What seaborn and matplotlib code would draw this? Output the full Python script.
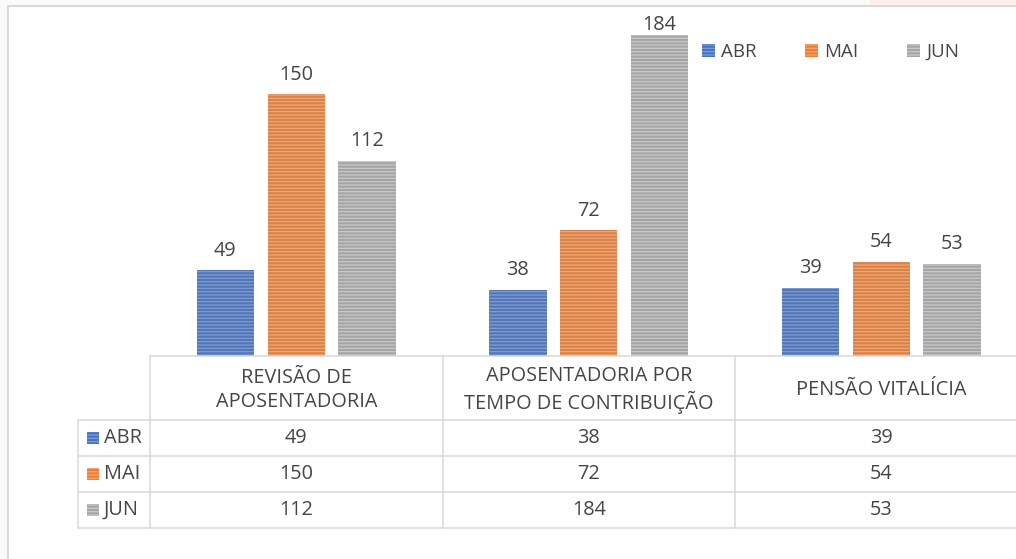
import seaborn as sns
import matplotlib.pyplot as plt
import pandas as pd
from matplotlib.patches import Rectangle, Patch

# dados
categorias = ['REVISÃO DE\nAPOSENTADORIA', 'APOSENTADORIA POR\nTEMPO DE CONTRIBUIÇÃO', 'PENSÃO VITALÍCIA']
meses = ['ABR', 'MAI', 'JUN']
abr = [49, 38, 39]
mai = [150, 72, 54]
jun = [112, 184, 53]

cores = ['#4472C4', '#ED7D31', '#A5A5A5']
listras = ['#7E9DD8', '#F5A672', '#C8C8C8']
texto = '#454545'
grade = '#D9D9D9'
fs = 14.3

df = pd.DataFrame({
    'Categoria': categorias * 3,
    'Mes': [m for m in meses for _ in categorias],
    'Valor': abr + mai + jun,
})

plt.rcParams['font.family'] = ['Open Sans', 'DejaVu Sans']
plt.rcParams['hatch.linewidth'] = 0.9

W, H = 1016, 559
fig = plt.figure(figsize=(W / 100, H / 100), dpi=100, facecolor='#FAFAFA')

# fundo do gráfico com borda (atrás dos eixos)
fig.patches.append(Rectangle((870 / W, 1 - 6 / H), 146 / W, 6 / H, transform=fig.transFigure,
                             facecolor='#FCEEEB', edgecolor='none', zorder=-2))
fig.patches.append(Rectangle((8 / W, -0.1), 1.1, 1.1 - 6 / H, transform=fig.transFigure,
                             facecolor='white', edgecolor=grade, lw=1.5, zorder=-1))

# barras
cat_px = 292.5
ax = fig.add_axes([150 / W, (H - 356) / H, 3 * cat_px / W, 349 / H])
ax.patch.set_alpha(0)
sns.barplot(data=df, x='Categoria', y='Valor', hue='Mes', palette=cores, width=0.727, gap=0.19,
            linewidth=0, legend=False, ax=ax)

ax.set_xlim(-0.5, 2.5)
ax.set_ylim(0, 200)

for cont, lc in zip(ax.containers, listras):
    for bar in cont:
        bar.set_hatch('-----')
        bar.set_edgecolor(lc)
        bar.set_linewidth(0)
    rotulos = ax.bar_label(cont, padding=7, fontsize=fs, color=texto)
    # rótulo perto do topo fica mais junto da barra, como no Excel
    for bar, t in zip(cont, rotulos):
        if bar.get_height() > 0.9 * ax.get_ylim()[1]:
            t.xyann = (0, 0)

for s in ['top', 'left', 'right']:
    ax.spines[s].set_visible(False)
ax.spines['bottom'].set_color(grade)
ax.spines['bottom'].set_linewidth(1.1)
ax.set_xticks([])
ax.set_yticks([])
ax.set_xlabel('')
ax.set_ylabel('')

# legenda
handles = [Patch(facecolor=c, edgecolor=l, hatch='-----', linewidth=0) for c, l in zip(cores, listras)]
fig.legend(handles, meses, loc='center left', bbox_to_anchor=(702 / W, 1 - 52 / H),
           bbox_transform=fig.transFigure, ncol=3, frameon=False, fontsize=13.5,
           handlelength=0.68, handleheight=0.68, handletextpad=0.33, columnspacing=2.6,
           borderpad=0, borderaxespad=0, labelcolor=texto)

# tabela de dados
lab_px = 72
x0 = -0.5 - lab_px / cat_px
tax = fig.add_axes([(150 - lab_px) / W, (H - 529) / H, (lab_px + 3 * cat_px) / W, 173 / H])
tax.set_xlim(x0, 2.5)
tax.set_ylim(173, 0)
tax.axis('off')

def px(p):
    return x0 + p / cat_px

lw = 1.1
linhas_y = [64, 100, 136, 172]
for y in linhas_y:
    tax.plot([x0, 2.5], [y, y], color=grade, lw=lw, clip_on=False, solid_capstyle='butt')
for xv in [-0.5, 0.5, 1.5]:
    tax.plot([xv, xv], [0, 172], color=grade, lw=lw, clip_on=False)
tax.plot([x0, x0], [64, 172], color=grade, lw=lw, clip_on=False)

for i, cat in enumerate(categorias):
    tax.text(i, 34, cat, ha='center', va='center', fontsize=fs, color=texto, linespacing=1.25)

series = [abr, mai, jun]
for r, (mes, vals, c, l) in enumerate(zip(meses, series, cores, listras)):
    yc = (linhas_y[r] + linhas_y[r + 1]) / 2
    tax.add_patch(Rectangle((px(9), yc - 6), 12 / cat_px, 12, facecolor=c, edgecolor=l,
                            hatch='-----', linewidth=0, clip_on=False))
    tax.text(px(26), yc, mes, ha='left', va='center', fontsize=fs, color=texto)
    for i, v in enumerate(vals):
        tax.text(i, yc, str(v), ha='center', va='center', fontsize=fs, color=texto)

fig.savefig('out.png', dpi=100, facecolor=fig.get_facecolor())
